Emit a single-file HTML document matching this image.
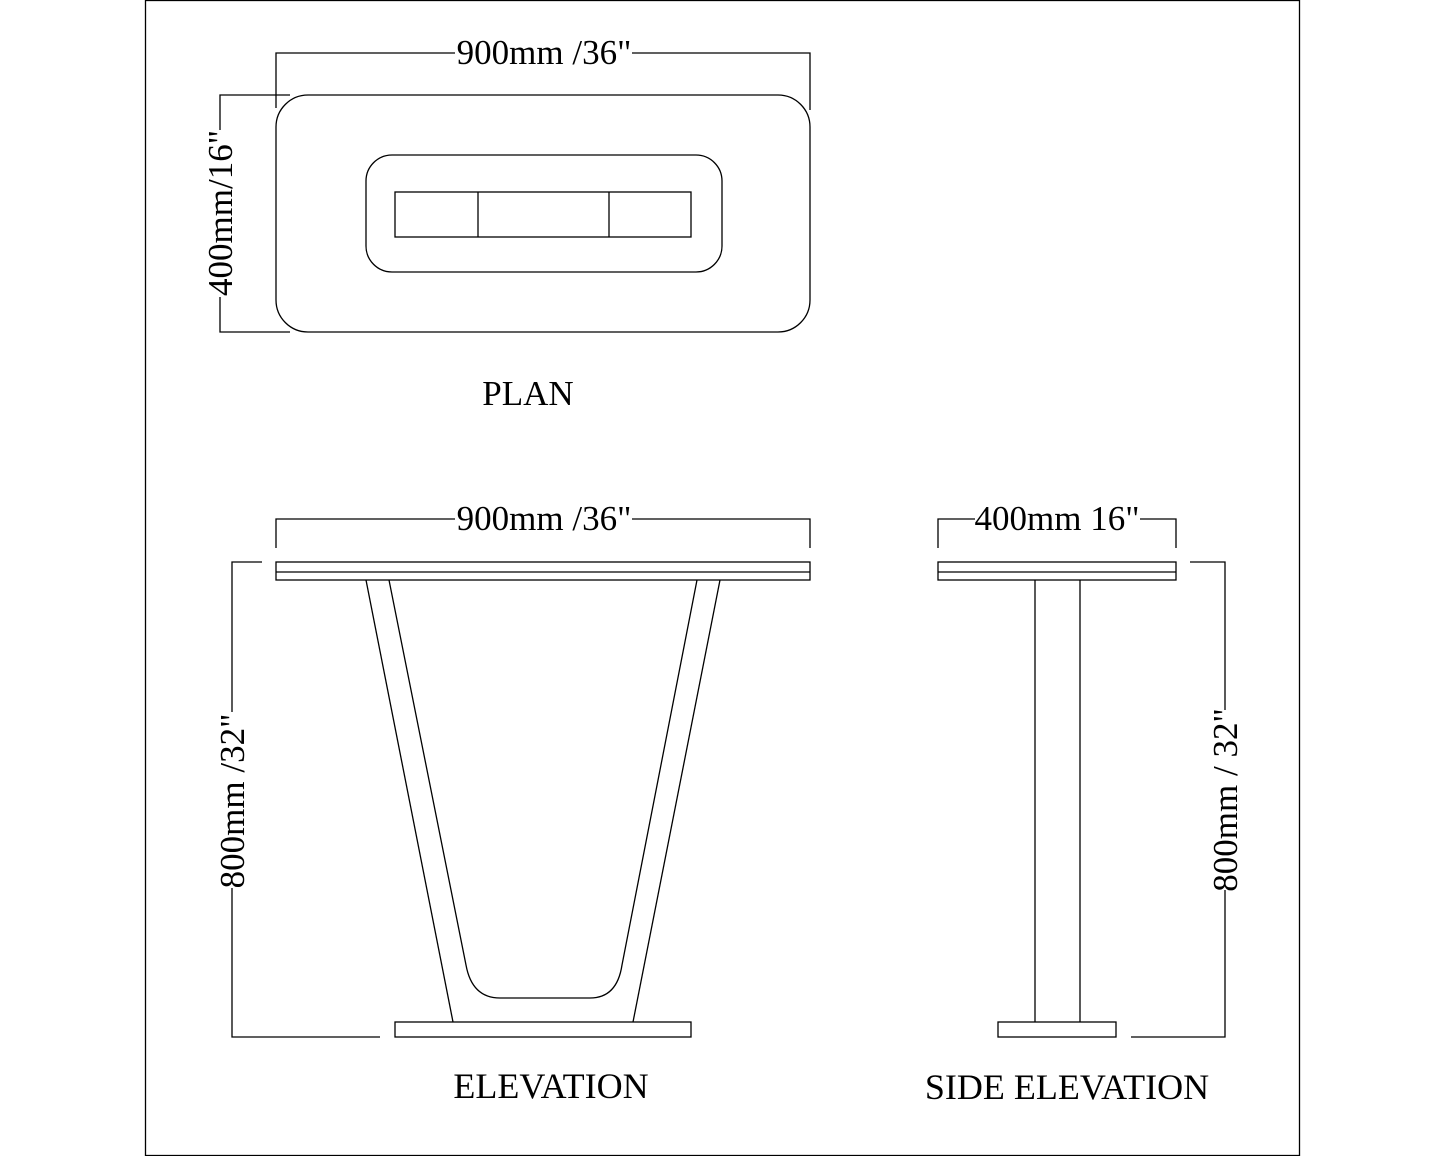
<!DOCTYPE html>
<html><head><meta charset="utf-8"><style>html,body{margin:0;padding:0;background:#fff}svg{display:block}text{font-family:"Liberation Serif",serif;font-size:35px;fill:#000}</style></head><body>
<svg width="1445" height="1156" viewBox="0 0 1445 1156" xmlns="http://www.w3.org/2000/svg">
<g fill="none" stroke="#000" stroke-width="1.3">
<rect x="145.5" y="0.5" width="1154" height="1155"/>
<rect x="276" y="95" width="534" height="237" rx="32"/>
<rect x="366" y="155" width="356" height="117" rx="26"/>
<rect x="395" y="192" width="296" height="45"/>
<line x1="478" y1="192" x2="478" y2="237"/><line x1="609" y1="192" x2="609" y2="237"/>
<polyline points="276,108 276,53 455,53"/><polyline points="632,53 810,53 810,110"/>
<polyline points="290,95 220,95 220,130"/><polyline points="220,297 220,332 290,332"/>
<polyline points="276,548 276,519 455,519"/><polyline points="632,519 810,519 810,548"/>
<rect x="276" y="562" width="534" height="18"/><line x1="276" y1="572" x2="810" y2="572"/>
<line x1="366" y1="580" x2="453" y2="1022"/>
<line x1="720" y1="580" x2="633" y2="1022"/>
<path d="M389,580 L466,965 Q472,998 500,998 L590,998 Q617,998 622,965 L697,580"/>
<rect x="395" y="1022" width="296" height="15"/>
<polyline points="262,562 232,562 232,712"/><polyline points="232,888 232,1037 380,1037"/>
<polyline points="938,548 938,519 975,519"/><polyline points="1140,519 1176,519 1176,548"/>
<rect x="938" y="562" width="238" height="18"/><line x1="938" y1="572" x2="1176" y2="572"/>
<line x1="1035" y1="580" x2="1035" y2="1022"/><line x1="1080" y1="580" x2="1080" y2="1022"/>
<rect x="998" y="1022" width="118" height="15"/>
<polyline points="1190,562 1225,562 1225,710"/><polyline points="1225,890 1225,1037 1131,1037"/>
</g>
<text x="544" y="64" text-anchor="middle">900mm /36"</text>
<text transform="translate(232,213) rotate(-90)" text-anchor="middle">400mm/16"</text>
<text x="528" y="405" text-anchor="middle">PLAN</text>
<text x="544" y="530" text-anchor="middle">900mm /36"</text>
<text transform="translate(244,801) rotate(-90)" text-anchor="middle">800mm /32"</text>
<text x="1057" y="530" text-anchor="middle">400mm 16"</text>
<text transform="translate(1237,800) rotate(-90)" text-anchor="middle">800mm / 32"</text>
<text x="551" y="1098" text-anchor="middle" style="font-size:36px">ELEVATION</text>
<text x="1067" y="1099" text-anchor="middle" style="font-size:36px">SIDE ELEVATION</text>
</svg>
</body></html>
